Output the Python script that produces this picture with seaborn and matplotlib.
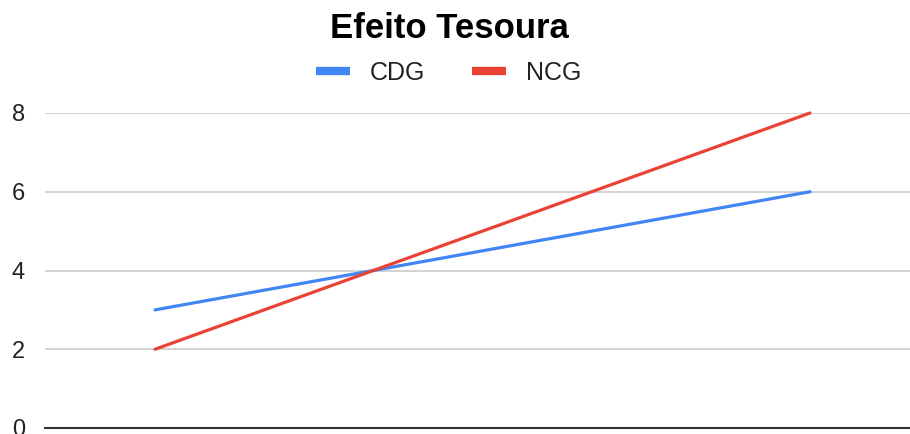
import matplotlib
matplotlib.use("Agg")
import matplotlib.pyplot as plt
from matplotlib.lines import Line2D
import pandas as pd
import seaborn as sns

# chart data
periodos = [1, 2]
cdg = [3, 6]
ncg = [2, 8]
series = ["CDG", "NCG"]
cores = ["#4285F4", "#EA4335"]

df = pd.DataFrame({
    "periodo": periodos * 2,
    "valor": cdg + ncg,
    "serie": ["CDG"] * len(periodos) + ["NCG"] * len(periodos),
})

sns.set_theme(style="white")
plt.rcParams["font.family"] = ["Liberation Sans", "DejaVu Sans"]

fig = plt.figure(figsize=(9.10, 4.34), dpi=100)
ax = fig.add_axes([45 / 910, 6 / 434, 865 / 910, 315 / 434])

sns.lineplot(data=df, x="periodo", y="valor", hue="serie", palette=cores,
             linewidth=2.3, ax=ax, legend=False, clip_on=False)

ax.set_ylim(0, 8)
ax.set_xlim(1 - 0.168, 1 + 1.1527)
ax.set_yticks([0, 2, 4, 6, 8])
ax.set_xticks([])
ax.set_xlabel("")
ax.set_ylabel("")
ax.grid(axis="y", color="#cccccc", linewidth=1.2)
ax.set_axisbelow(True)
for s in ["top", "right", "left"]:
    ax.spines[s].set_visible(False)
ax.spines["bottom"].set_color("#333333")
ax.spines["bottom"].set_linewidth(1.5)
ax.tick_params(axis="y", length=0, labelsize=17, labelcolor="#222222", pad=0)
for lbl in ax.get_yticklabels():
    lbl.set_horizontalalignment("left")
    lbl.set_x(-33 / 865)

fig.text(0.494, 1 - 28 / 434, "Efeito Tesoura", ha="center", va="center",
         fontsize=25, fontweight="bold", color="#000000")

handles = [Line2D([0], [0], color=c, lw=6, solid_capstyle="butt") for c in cores]
fig.legend(handles, series, loc="center", bbox_to_anchor=(0.493, 1 - 73 / 434),
           ncol=2, frameon=False, fontsize=18, handlelength=1.35,
           columnspacing=1.9, handletextpad=0.8, labelcolor="#222222")

fig.savefig("out.png", dpi=100)
